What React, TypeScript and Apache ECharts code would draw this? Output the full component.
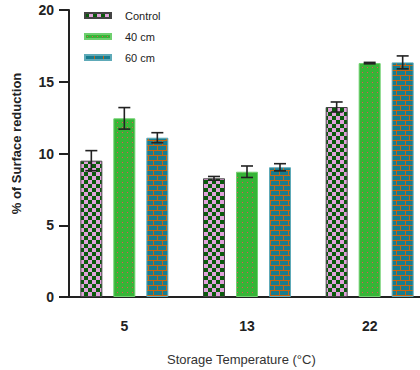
import React, { useEffect, useRef } from "react";
import * as echarts from "echarts";

const categories = ["5", "13", "22"];
const seriesNames = ["Control", "40 cm", "60 cm"];
const controlValues = [9.5, 8.27, 13.24];
const cm40Values = [12.45, 8.73, 16.3];
const cm60Values = [11.1, 9.04, 16.35];
const controlErr = [0.7, 0.13, 0.35];
const cm40Err = [0.75, 0.4, 0.05];
const cm60Err = [0.35, 0.25, 0.45];
const yTicks = [0, 5, 10, 15, 20];

const FONT = "'Liberation Sans', Arial, sans-serif";
const BAR_W = 22;
const BAR_STEP = 33;

function makeCanvas(w: number, h: number, draw: (ctx: CanvasRenderingContext2D) => void) {
  const c = document.createElement("canvas");
  c.width = w;
  c.height = h;
  const ctx = c.getContext("2d")!;
  draw(ctx);
  return c;
}

export default function App() {
  const ref = useRef<HTMLDivElement>(null);
  useEffect(() => {
    if (!ref.current) return;
    const chart = echarts.init(ref.current, undefined, { renderer: "svg" });

    const checker = makeCanvas(8, 8, (ctx) => {
      ctx.fillStyle = "#e0a2da";
      ctx.fillRect(0, 0, 8, 8);
      ctx.fillStyle = "#0a5a0c";
      ctx.fillRect(0, 0, 4, 4);
      ctx.fillRect(4, 4, 4, 4);
    });
    const dots = makeCanvas(5, 5, (ctx) => {
      ctx.fillStyle = "#36b536";
      ctx.fillRect(0, 0, 5, 5);
      ctx.fillStyle = "#e8505a";
      ctx.fillRect(2, 2, 1, 1);
    });
    const bricks = makeCanvas(9, 10, (ctx) => {
      ctx.fillStyle = "#187c8e";
      ctx.fillRect(0, 0, 9, 10);
      ctx.fillStyle = "#c8640f";
      ctx.fillRect(0, 0, 9, 1);
      ctx.fillRect(0, 5, 9, 1);
      ctx.fillRect(0, 0, 1, 5);
      ctx.fillRect(4, 5, 1, 5);
    });

    const valueSets = [controlValues, cm40Values, cm60Values];
    const errSets = [controlErr, cm40Err, cm60Err];
    const patterns = [checker, dots, bricks];
    const borders = ["#444444", "#6fd06f", "#5eaab8"];

    const errData: number[][] = [];
    valueSets.forEach((vals, s) => {
      vals.forEach((v, c) => errData.push([c, s, v, errSets[s][c]]));
    });

    const barSeries = seriesNames.map((name, s) => ({
      name,
      type: "bar",
      data: valueSets[s],
      barWidth: BAR_W,
      barGap: "50%",
      itemStyle: {
        color: { image: patterns[s], repeat: "repeat" },
        borderColor: borders[s],
        borderWidth: 1,
      },
    }));

    chart.setOption({
      animation: false,
      grid: { left: 63, width: 368, top: 10, bottom: 73, outerBoundsMode: "none", containLabel: false },
      legend: {
        orient: "vertical",
        left: 84,
        top: 10,
        padding: 0,
        itemGap: 10,
        itemWidth: 26,
        itemHeight: 5,
        icon: "rect",
        data: seriesNames,
        textStyle: { fontFamily: FONT, fontSize: 11, color: "#222", padding: [0, 0, 0, 9] },
      },
      xAxis: {
        type: "category",
        data: categories,
        axisLine: { lineStyle: { color: "#222", width: 2 } },
        axisTick: { alignWithLabel: true, length: 11, lineStyle: { color: "#222", width: 2 } },
        axisLabel: { fontFamily: FONT, fontSize: 14, fontWeight: "bold", color: "#222", margin: 22 },
      },
      yAxis: {
        type: "value",
        min: yTicks[0],
        max: yTicks[yTicks.length - 1],
        interval: 5,
        offset: -6,
        name: "% of Surface reduction",
        nameLocation: "middle",
        nameGap: 46,
        nameTextStyle: { fontFamily: FONT, fontSize: 13, fontWeight: "bold", color: "#222", padding: [0, 0, 0, 20] },
        axisLine: { show: true, lineStyle: { color: "#222", width: 2 } },
        axisTick: { show: true, length: 10, lineStyle: { color: "#222", width: 2 } },
        axisLabel: { fontFamily: FONT, fontSize: 14, fontWeight: "bold", color: "#222", margin: 15 },
        splitLine: { show: false },
      },
      graphic: [
        {
          type: "text",
          left: 242 - 75,
          top: 353,
          style: {
            text: "Storage Temperature (°C)",
            fontFamily: FONT,
            fontSize: 13,
            fill: "#333",
          },
        },
      ],
      series: [
        ...barSeries,
        {
          type: "custom",
          data: errData,
          z: 10,
          renderItem: (params: any, api: any) => {
            const c = api.value(0);
            const s = api.value(1);
            const v = api.value(2);
            const e = api.value(3);
            const mid = api.coord([c, v]);
            const x = mid[0] + (s - 1) * BAR_STEP;
            const yT = api.coord([c, v + e])[1];
            const yB = api.coord([c, v - e])[1];
            const st = { stroke: "#222", lineWidth: 1.6 };
            return {
              type: "group",
              children: [
                { type: "line", shape: { x1: x, y1: yT, x2: x, y2: yB }, style: st },
                { type: "line", shape: { x1: x - 6, y1: yT, x2: x + 6, y2: yT }, style: st },
                { type: "line", shape: { x1: x - 6, y1: yB, x2: x + 6, y2: yB }, style: st },
              ],
            };
          },
        },
      ],
    });
    return () => chart.dispose();
  }, []);
  return <div ref={ref} style={{ width: 420, height: 370, position: "absolute", left: 0, top: 0 }} />;
}
